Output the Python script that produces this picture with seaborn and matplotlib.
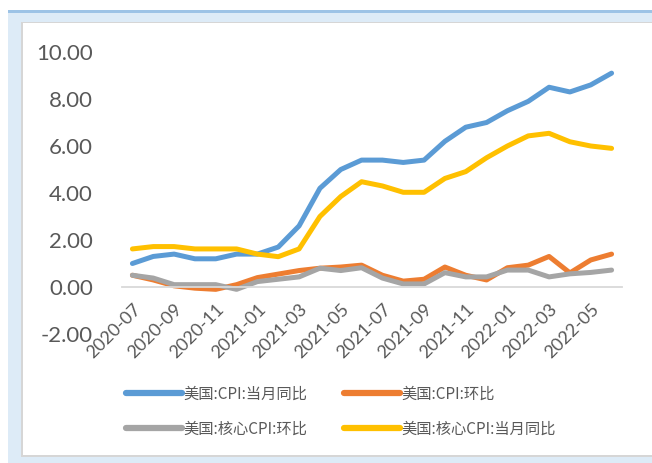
import numpy as np
import pandas as pd
import matplotlib
matplotlib.use("Agg")
import matplotlib.pyplot as plt
from matplotlib.patches import Rectangle
from matplotlib.lines import Line2D
import seaborn as sns

months = ["2020-07", "2020-08", "2020-09", "2020-10", "2020-11", "2020-12",
          "2021-01", "2021-02", "2021-03", "2021-04", "2021-05", "2021-06",
          "2021-07", "2021-08", "2021-09", "2021-10", "2021-11", "2021-12",
          "2022-01", "2022-02", "2022-03", "2022-04", "2022-05", "2022-06"]

cpi_yoy = [1.0, 1.3, 1.4, 1.2, 1.2, 1.4, 1.4, 1.7, 2.6, 4.2, 5.0, 5.4,
           5.4, 5.3, 5.4, 6.2, 6.8, 7.0, 7.5, 7.9, 8.5, 8.3, 8.6, 9.1]
cpi_mom = [0.5, 0.3, 0.05, -0.05, -0.1, 0.1, 0.4, 0.55, 0.7, 0.8, 0.85, 0.93,
           0.5, 0.25, 0.33, 0.85, 0.5, 0.3, 0.82, 0.93, 1.3, 0.6, 1.15, 1.4]
core_mom = [0.5, 0.38, 0.1, 0.1, 0.1, -0.1, 0.23, 0.33, 0.43, 0.8, 0.7, 0.82,
            0.38, 0.13, 0.13, 0.61, 0.43, 0.43, 0.72, 0.72, 0.43, 0.56, 0.62, 0.72]
core_yoy = [1.62, 1.72, 1.72, 1.62, 1.62, 1.62, 1.4, 1.29, 1.62, 3.0, 3.85, 4.48,
            4.3, 4.03, 4.03, 4.62, 4.91, 5.5, 6.0, 6.43, 6.54, 6.18, 6.0, 5.9]

series_names = ["美国:CPI:当月同比", "美国:CPI:环比", "美国:核心CPI:环比", "美国:核心CPI:当月同比"]
colors = ["#5B9BD5", "#ED7D31", "#A5A5A5", "#FFC000"]
y_ticks = [-2, 0, 2, 4, 6, 8, 10]

df = pd.DataFrame({
    "idx": list(range(len(months))) * 4,
    "month": months * 4,
    "value": cpi_yoy + cpi_mom + core_mom + core_yoy,
    "series": sum([[n] * len(months) for n in series_names], []),
})

sns.set_theme(style="white")
plt.rcParams["font.family"] = ["Lato", "DejaVu Sans"]

W, H = 652, 463
fig = plt.figure(figsize=(W / 100, H / 100), dpi=100, facecolor="white")

def px_rect(x0, y0, x1, y1, color, z=-10):
    r = Rectangle((x0 / W, 1 - y1 / H), (x1 - x0) / W, (y1 - y0) / H,
                  transform=fig.transFigure, facecolor=color, edgecolor="none",
                  zorder=z)
    fig.add_artist(r)

# frame
px_rect(8, 10, W, H, "#DDEBF7", -12)
px_rect(8, 10, W, 12.5, "#9DC3E6", -11)
px_rect(21.5, 21.5, W + 5, 457, "#D6D6D6", -11)
px_rect(23, 23, W + 5, 455, "white", -10)

ax = fig.add_axes([122 / W, 1 - 334 / H, 500 / W, (334 - 52) / H])
ax.set_facecolor("none")

sns.lineplot(data=df, x="idx", y="value", hue="series", hue_order=series_names,
             palette=colors, linewidth=3.6, legend=False, ax=ax, sort=False)
for ln in ax.lines:
    ln.set_solid_capstyle("round")
    ln.set_solid_joinstyle("round")

for s in ["top", "right", "left"]:
    ax.spines[s].set_visible(False)
ax.spines["bottom"].set_position(("data", 0))
ax.spines["bottom"].set_color("#D9D9D9")
ax.spines["bottom"].set_linewidth(1.3)
ax.grid(False)

ax.set_xlim(-0.5, len(months) - 0.5)
ax.set_ylim(-2, 10)
ax.set_yticks(y_ticks)
ax.set_yticklabels([f"{v:.2f}" for v in y_ticks], fontsize=16, color="#595959")
ax.tick_params(axis="y", length=0, pad=21)

label_pos = list(range(0, len(months), 2))
ax.set_xticks(label_pos)
ax.set_xticklabels([months[i] for i in label_pos], rotation=45, ha="right",
                   rotation_mode="anchor", fontsize=13, color="#595959")
ax.set_xticks(np.arange(-0.5, len(months), 2), minor=True)
ax.tick_params(axis="x", which="major", length=0, pad=10)
ax.tick_params(axis="x", which="minor", length=5, width=1.2, color="#D9D9D9",
               direction="out")
ax.set_xlabel("")
ax.set_ylabel("")

handles = [Line2D([0], [0], color=c, lw=4.5, solid_capstyle="round") for c in colors]
order = [0, 2, 1, 3]
leg = fig.legend([handles[i] for i in order], [series_names[i] for i in order],
                 ncol=2, loc="upper left", bbox_to_anchor=(112 / W, 1 - 372 / H),
                 frameon=False, handlelength=3.7, handletextpad=0.05,
                 columnspacing=2.4, labelspacing=1.15,
                 prop={"family": ["Noto Sans CJK SC", "DejaVu Sans"], "size": 11})
for t in leg.get_texts():
    t.set_color("#595959")

fig.savefig("out.png", dpi=100, facecolor="white")
